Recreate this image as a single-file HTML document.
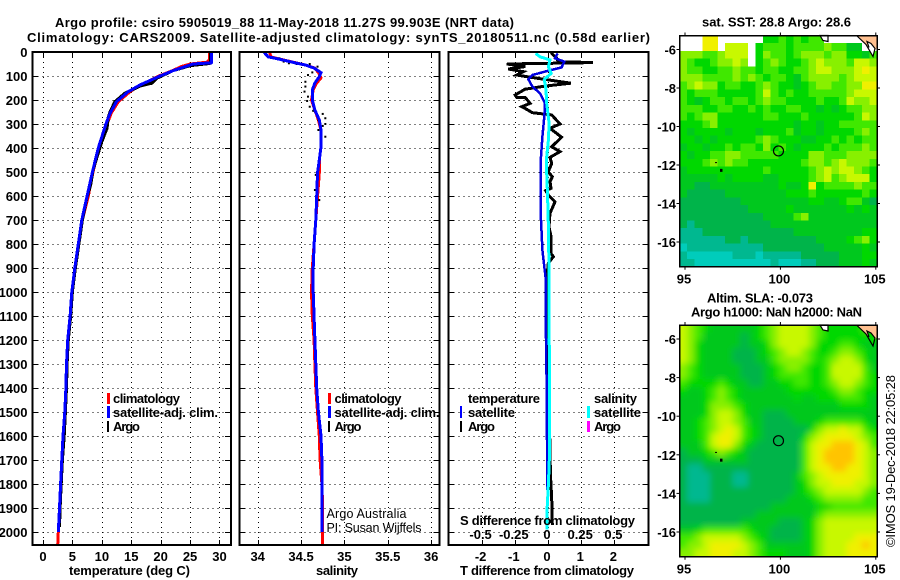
<!DOCTYPE html>
<html><head><meta charset="utf-8"><title>Argo profile</title>
<style>
html,body{margin:0;padding:0;background:#fff}
svg{display:block}
text{font-family:"Liberation Sans",sans-serif;fill:#000}
.b{font-size:13px;font-weight:bold}
.n{font-size:12.5px}
.r{font-size:13px}
</style></head>
<body>
<svg id="fig" xmlns="http://www.w3.org/2000/svg" width="900" height="580" viewBox="0 0 900 580">
<defs>
<clipPath id="c1"><rect x="32" y="52" width="199" height="493"/></clipPath>
<clipPath id="c2"><rect x="239" y="52" width="200" height="493"/></clipPath>
<clipPath id="c3"><rect x="448" y="52" width="200" height="493"/></clipPath>
<clipPath id="c4"><rect x="679.5" y="325" width="197.5" height="231.7"/></clipPath>
<filter id="smooth" filterUnits="userSpaceOnUse" x="640" y="290" width="260" height="290"><feGaussianBlur stdDeviation="3.2"/></filter>
</defs>
<rect width="900" height="580" fill="#fff"/>
<g id="maps"></g>
<g id="grids"></g>
<g id="series"></g>
<g id="frames"></g>
<g id="ticklabels"></g>

<text class="b" x="55" y="27" textLength="459" lengthAdjust="spacing">Argo profile: csiro 5905019_88 11-May-2018 11.27S 99.903E (NRT data)</text>
<text class="b" x="27" y="42" textLength="623" lengthAdjust="spacing">Climatology: CARS2009. Satellite-adjusted climatology: synTS_20180511.nc (0.58d earlier)</text>

<text class="b" x="69" y="575" textLength="121" lengthAdjust="spacing">temperature (deg C)</text>
<text class="b" x="316" y="575" textLength="42" lengthAdjust="spacing">salinity</text>
<text class="b" x="460" y="575" textLength="174" lengthAdjust="spacing">T difference from climatology</text>
<text class="b" x="460" y="525" textLength="175" lengthAdjust="spacing">S difference from climatology</text>

<g>
<rect x="107" y="393" width="3" height="11" fill="#f00"/>
<text class="b" x="113" y="403" textLength="67" lengthAdjust="spacing">climatology</text>
<rect x="107" y="406" width="3" height="12" fill="#00f"/>
<text class="b" x="113" y="417" textLength="105" lengthAdjust="spacing">satellite-adj. clim.</text>
<rect x="107" y="421" width="2" height="11" fill="#000"/>
<text class="b" x="113" y="431" textLength="27" lengthAdjust="spacing">Argo</text>
</g>
<g>
<rect x="328" y="393" width="3" height="11" fill="#f00"/>
<text class="b" x="334.5" y="403" textLength="67" lengthAdjust="spacing">climatology</text>
<rect x="328" y="406" width="3" height="12" fill="#00f"/>
<text class="b" x="334.5" y="417" textLength="105" lengthAdjust="spacing">satellite-adj. clim.</text>
<rect x="328" y="421" width="2" height="11" fill="#000"/>
<text class="b" x="334.5" y="431" textLength="27" lengthAdjust="spacing">Argo</text>
</g>
<g>
<text class="b" x="468" y="403" textLength="72" lengthAdjust="spacing">temperature</text>
<rect x="460" y="406" width="2" height="12" fill="#00f"/>
<text class="b" x="468" y="417" textLength="47" lengthAdjust="spacing">satellite</text>
<rect x="460" y="421" width="2" height="11" fill="#000"/>
<text class="b" x="468" y="431" textLength="27" lengthAdjust="spacing">Argo</text>
<text class="b" x="594" y="403" textLength="43" lengthAdjust="spacing">salinity</text>
<rect x="587" y="406" width="3" height="12" fill="#0ff"/>
<text class="b" x="594" y="417" textLength="47" lengthAdjust="spacing">satellite</text>
<rect x="587" y="421" width="3" height="11" fill="#f0f"/>
<text class="b" x="594" y="431" textLength="27" lengthAdjust="spacing">Argo</text>
</g>

<text class="n" x="326.5" y="518" textLength="80" lengthAdjust="spacing">Argo Australia</text>
<text class="n" x="326.5" y="532" textLength="95" lengthAdjust="spacing">PI: Susan Wijffels</text>

<text class="b" x="702" y="26.5" textLength="149" lengthAdjust="spacing">sat. SST: 28.8 Argo: 28.6</text>
<text class="b" x="707" y="302.5" textLength="106" lengthAdjust="spacing">Altim. SLA: -0.073</text>
<text class="b" x="691" y="316.5" textLength="171" lengthAdjust="spacing">Argo h1000: NaN h2000: NaN</text>
<text class="r" transform="translate(895,547) rotate(-90)" textLength="172" lengthAdjust="spacing">©IMOS 19-Dec-2018 22:05:28</text>
</svg>

<script>
// ---------- temperature panel data ----------
const tempClimDepth = [0,30,42,50,60,78,100,137,165,207,255,300,400,500,600,700,800,900,1000,1100,1200,1300,1400,1500,1600,1700,1800,1900,2000,2054];
const tempClim = [28.3,28.3,28.0,25.0,23.6,22.0,19.7,16.6,14.8,12.8,11.6,10.9,9.5,8.5,7.7,6.7,6.0,5.4,4.9,4.6,4.3,4.1,4.0,3.8,3.5,3.3,3.1,2.8,2.6,2.5];
const tempSatDepth = [0,45,50,78,100,137,165,207,255,300,400,500,600,700,800,900,1000,1100,1200,1300,1400,1500,1600,1700,1800,1900,2000];
const tempSat = [28.7,28.6,25.5,22.1,19.9,16.5,14.5,12.5,11.4,10.7,9.4,8.4,7.5,6.6,6.0,5.4,4.9,4.6,4.2,4.0,3.9,3.7,3.4,3.2,3.0,2.8,2.6];
const tempArgoDepth = [0,40,48,57,78,110,130,142,172,207,249,270,317,374,421,492,554,603,700,800,900,1000,1100,1200,1300,1400,1500,1600,1700,1800,1900,1980];
const tempArgo = [28.5,28.5,28.3,25.0,22.1,19.3,18.5,16.5,13.9,12.2,11.4,11.1,10.9,10.0,9.4,8.5,8.1,7.5,6.7,6.1,5.5,5.0,4.7,4.3,4.1,4.0,3.8,3.6,3.3,3.1,2.9,2.8];
const tempTicks = [0,5,10,15,20,25,30];
const depthTicks = [0,100,200,300,400,500,600,700,800,900,1000,1100,1200,1300,1400,1500,1600,1700,1800,1900,2000];

// ---------- salinity panel data ----------
const salClimDepth = [0,20,29,45,54,67,86,108,129,158,200,242,283,325,395,450,504,604,700,800,900,1000,1100,1200,1300,1400,1500,1600,1700,1800,1900,2054];
const salClim = [34.14,34.15,34.25,34.44,34.55,34.66,34.70,34.73,34.68,34.64,34.62,34.66,34.70,34.73,34.73,34.71,34.71,34.69,34.67,34.65,34.63,34.62,34.63,34.65,34.66,34.67,34.69,34.71,34.72,34.74,34.75,34.75];
const salSatDepth = [0,20,29,45,54,67,86,103,129,158,200,242,283,325,395,450,504,604,700,800,900,1000,1200,1400,1500,1600,1700,1800,2000];
const salSat = [34.07,34.12,34.24,34.43,34.55,34.65,34.73,34.71,34.66,34.63,34.63,34.66,34.71,34.73,34.73,34.71,34.69,34.68,34.67,34.65,34.64,34.64,34.66,34.68,34.70,34.73,34.74,34.74,34.74];
const salArgoDepth = [26,40,47,50,50,61,85,96,124,144,165,186,204,228,245,258,276,283,300,308,325,353,367,512,575,617];
const salArgo = [34.25,34.30,34.36,34.45,34.60,34.69,34.63,34.58,34.55,34.55,34.54,34.58,34.57,34.60,34.64,34.75,34.78,34.70,34.78,34.75,34.70,34.78,34.73,34.67,34.66,34.71];
const salTicks = [34,34.5,35,35.5,36];

// ---------- difference panel data ----------
const diffTArgoDepth = [3,26,40,44,50,61,71,82,96,103,114,130,142,155,179,190,189,214,228,239,253,262,300,318,355,395,415,439,464,499,520,540,568,578,596,624,672,728,769,839,853,880,943,1730,1780,1860,1970];
const diffTArgo = [0.09,0.26,0.31,1.36,-1.24,-0.69,-1.2,-0.74,-0.94,-0.64,-0.09,0.69,-0.09,-0.69,-0.99,-0.94,-0.69,-0.54,-0.79,-0.64,-0.47,0.11,0.36,0.06,0.41,0.11,0.36,0.06,0.11,0.01,0.13,0.06,0.09,-0.07,0.01,0.21,0.06,0.03,0.09,0.09,0.16,0.01,-0.04,0.07,0.08,0.11,0.13];
const diffTSatDepth = [6,26,40,64,78,96,114,144,172,214,269,353,436,672,825,894,943,1100,1400,1825];
const diffTSat = [0.29,0.21,0.49,0.41,0.01,-0.47,-0.59,-0.47,-0.24,-0.09,-0.11,-0.17,-0.21,-0.22,-0.17,-0.11,-0.07,-0.07,-0.04,-0.02];
const diffSSatDepth = [6,20,33,61,89,114,158,214,297,367,436,506,603,728,943,1300,1700,1800,1920,1990];
const diffSSat = [-0.093,-0.06,0.015,0.003,0.023,-0.028,-0.015,-0.01,0.008,0.003,-0.01,-0.01,-0.003,0.003,0.008,0.01,0.01,0.003,-0.008,-0.008];
const diffTTicks = [-2,-1,0,1,2];
const diffSTicks = [-0.5,-0.25,0,0.25,0.5];
const diffSLabels = ['-0.5','-0.25','0','0.25','0.5'];

// ---------- map data ----------
const lonTicks = [95,100,105];
const latTicks = [-6,-8,-10,-12,-14,-16];
const colorLevels = ['#00ccbb','#00b890','#00b44a','#00c81e','#00d800','#40e800','#88f000','#c8f800','#f0f000','#ffc400'];
const profileLon = 99.9;
const profileLat = -11.27;
// SST colour-scale level per cell, north to south (-1 = no data)
const sstGrid = [
[-1,-1,-1,8,8,-1,-1,-1,-1,-1,-1,4,4,5,4,5,4,5,5,-1,-1,-1,-1,-1,-1,-1],
[-1,-1,-1,8,8,-1,7,7,7,-1,4,5,5,5,4,5,5,5,5,6,5,5,3,3,-1,-1],
[6,6,6,5,5,6,7,7,7,-1,4,6,5,5,4,5,6,6,6,5,6,6,4,4,3,5],
[6,5,4,4,5,6,6,7,6,-1,4,5,6,5,4,4,5,6,7,6,6,6,5,7,7,6],
[6,5,5,4,4,5,5,6,5,5,4,5,5,4,4,5,5,6,7,7,6,6,6,7,8,7],
[6,6,6,5,5,5,5,6,5,6,5,4,5,5,4,3,5,6,6,6,6,5,6,7,7,7],
[5,6,7,6,6,4,5,5,4,4,5,6,5,4,4,3,4,5,6,6,5,5,6,6,8,8],
[5,4,5,5,5,4,4,4,4,4,5,7,5,4,5,4,4,5,5,5,5,5,6,7,7,7],
[5,4,3,4,5,5,4,5,5,4,5,6,5,5,4,4,4,4,5,4,4,5,7,6,6,7],
[5,5,5,4,4,5,5,4,4,5,4,5,4,4,5,5,4,4,3,4,3,4,5,5,6,6],
[5,4,5,6,6,4,4,4,4,4,4,5,5,4,4,4,5,4,4,4,4,4,4,5,7,6],
[4,4,4,5,6,4,4,4,4,4,4,4,4,4,4,3,4,4,3,4,4,5,5,5,5,5],
[4,3,4,4,4,4,3,4,4,4,3,4,4,4,5,3,4,4,3,4,4,4,4,5,6,5],
[4,4,3,4,3,4,4,4,4,4,5,6,5,4,4,4,3,3,4,4,5,4,5,4,5,5],
[3,4,4,3,4,4,5,4,5,5,4,6,4,5,4,3,4,4,4,5,4,5,5,5,6,5],
[4,3,4,4,5,5,6,6,5,5,5,5,5,4,4,4,4,6,6,5,5,5,6,6,6,6],
[4,4,4,5,6,5,6,5,5,4,4,4,4,4,4,4,5,6,6,5,6,7,6,6,6,5],
[3,4,4,4,4,4,4,4,4,4,4,5,4,4,4,4,4,5,6,7,6,7,7,6,5,4],
[3,3,3,3,3,4,3,4,4,4,4,3,3,4,4,4,4,5,6,7,5,6,7,7,7,4],
[3,3,2,2,3,3,3,3,3,3,3,3,3,4,3,3,4,8,4,5,5,5,5,6,5,5],
[3,2,2,2,2,2,3,3,3,3,3,3,3,3,4,4,4,5,4,4,4,4,4,4,5,4],
[2,2,2,2,2,2,2,2,3,3,3,3,3,3,3,3,3,4,4,3,3,4,5,5,3,2],
[2,2,2,2,2,2,2,2,2,3,3,3,3,3,4,3,3,3,3,3,3,3,4,3,4,3],
[2,2,2,2,2,2,2,2,2,2,2,3,3,3,3,5,6,3,3,3,3,3,3,3,3,3],
[2,1,2,2,2,2,2,2,2,2,2,2,3,3,3,3,3,3,3,3,3,3,3,3,3,3],
[1,1,1,2,2,2,2,2,2,2,2,2,2,2,2,3,3,3,3,3,3,3,3,3,4,4],
[1,1,1,1,1,1,2,2,1,2,2,2,2,2,2,2,2,2,3,3,3,3,4,5,6,4],
[0,1,1,1,1,1,1,1,1,1,1,2,2,2,2,2,2,2,2,3,3,3,3,3,4,3],
[1,0,0,0,0,0,0,1,1,1,0,1,1,1,1,1,2,2,2,2,2,3,3,3,4,4],
[1,1,0,0,0,0,0,0,0,0,0,0,1,0,0,0,1,1,2,2,2,3,3,3,4,3]
];
// SLA colour-scale level per cell, north to south
const slaGrid = [
[7,6,5,4,3,3,3,3,3,3,4,5,6,7,7,7,7,6,5,4,4,4,4,4,5,5],
[7,6,5,3,3,3,3,3,2,3,4,5,6,7,7,7,7,6,5,4,4,4,4,4,4,4],
[7,6,4,3,3,3,3,3,2,3,3,4,6,7,7,7,7,6,4,4,4,5,5,4,3,3],
[7,6,4,3,3,3,3,2,2,2,3,4,5,6,7,7,6,5,4,4,5,6,6,5,4,3],
[7,6,4,3,3,3,3,2,2,2,3,3,5,6,6,6,6,5,4,5,6,7,7,6,4,3],
[6,5,4,3,3,3,3,3,2,2,2,3,4,5,6,6,5,4,4,5,7,7,7,7,5,3],
[6,5,4,3,3,3,3,3,2,2,2,3,4,5,5,5,5,4,4,5,7,7,7,7,5,4],
[5,4,4,4,4,5,4,3,3,2,2,3,3,4,4,5,5,4,4,5,6,7,7,6,5,4],
[4,3,3,4,5,6,5,4,3,3,3,3,3,3,4,4,4,4,4,4,5,6,6,5,4,4],
[3,3,3,4,5,6,5,4,3,3,3,3,3,3,3,4,3,3,4,4,4,5,5,5,4,3],
[3,3,3,4,6,6,6,5,4,3,3,3,3,3,3,3,3,3,3,3,3,4,4,4,4,3],
[3,3,3,4,6,7,7,6,4,3,3,2,2,2,3,3,3,3,3,3,3,3,3,3,3,3],
[3,3,4,5,6,7,7,6,5,3,3,2,2,2,2,3,3,3,4,5,5,5,5,5,4,3],
[3,3,4,5,6,7,8,7,5,4,3,2,2,2,2,2,2,4,6,7,7,8,7,7,5,4],
[3,3,4,5,7,8,8,7,5,4,3,2,2,2,2,2,4,6,7,8,8,8,8,7,6,5],
[3,3,3,5,7,8,8,6,4,3,2,2,2,2,2,2,5,7,8,8,9,9,9,8,7,5],
[2,3,3,4,5,6,5,4,3,2,2,2,2,2,2,2,5,7,8,9,9,9,9,8,7,6],
[2,2,2,3,3,3,3,3,3,2,2,2,2,2,2,2,5,7,8,9,9,9,9,8,7,6],
[2,1,1,2,2,2,2,2,2,2,2,2,2,2,2,2,5,7,8,8,9,9,8,8,7,6],
[2,1,1,1,2,2,2,1,1,2,2,2,2,2,2,3,5,6,7,8,8,8,8,8,7,6],
[2,1,1,1,2,2,2,1,1,2,2,2,2,2,2,3,4,6,7,7,8,8,8,7,7,6],
[2,1,1,1,2,2,2,2,2,2,2,2,2,2,2,3,4,5,6,7,7,7,7,7,6,5],
[2,1,1,1,2,2,2,2,2,2,2,2,2,2,3,3,3,4,5,6,6,6,6,6,5,5],
[2,2,2,2,2,2,2,2,2,2,2,2,3,3,3,3,3,3,4,4,5,5,5,5,5,5],
[2,2,2,2,2,2,2,2,2,2,3,3,3,3,3,3,3,3,5,6,6,6,6,6,6,6],
[2,2,2,2,2,2,2,2,3,3,3,3,3,2,2,2,3,4,6,7,7,7,7,7,7,7],
[3,3,4,5,5,5,5,5,5,4,3,3,2,2,2,2,3,4,6,7,7,7,7,7,7,7],
[5,5,6,7,7,7,7,7,6,5,4,3,2,2,2,2,3,4,6,7,7,7,7,8,8,8],
[5,6,6,7,8,8,8,8,7,6,5,3,3,3,3,3,3,4,6,7,7,7,8,8,9,8],
[6,6,7,7,8,8,8,7,7,6,5,4,4,4,3,3,3,4,6,7,7,7,8,8,8,8]
];

// ---------- axis functions ----------
const NS = 'http://www.w3.org/2000/svg';
const PLOT_TOP = 52, PLOT_BOTTOM = 545;
const yDepth = d => PLOT_TOP + d * 0.24;
const xTemp = t => 43 + t * 5.883;
const xSal = s => 257.7 + (s - 34) * 86.7;
const xDiffT = v => 548 + v * 33.2;
const xDiffS = v => 548 + v * 132.8;

function mk(parent, tag, attrs, text) {
  const e = document.createElementNS(NS, tag);
  for (const k in attrs) e.setAttribute(k, attrs[k]);
  if (text !== undefined) e.textContent = text;
  parent.appendChild(e);
  return e;
}
const gMaps = document.getElementById('maps');
const gGrids = document.getElementById('grids');
const gSeries = document.getElementById('series');
const gFrames = document.getElementById('frames');
const gLabels = document.getElementById('ticklabels');

function line(xs, ys, color, width, clip, name) {
  const pts = xs.map((x, i) => x.toFixed(1) + ',' + ys[i].toFixed(1)).join(' ');
  const p = mk(gSeries, 'polyline', {points: pts, fill: 'none', stroke: color, 'stroke-width': width, 'shape-rendering': 'crispEdges', 'clip-path': 'url(#' + clip + ')'});
  
  
  return p;
}

// ---------- frames, grids and ticks for the three profile panels ----------
function panel(left, right, xVals, xFn, name) {
  const dot = {stroke: '#000', 'stroke-width': 1.2, 'stroke-dasharray': '1.2 3.8', 'shape-rendering': 'crispEdges'};
  const tick = {stroke: '#000', 'stroke-width': 1, 'shape-rendering': 'crispEdges'};
  xVals.forEach(v => {
    const x = Math.round(xFn(v)) + 0.5;
    const g = mk(gGrids, 'line', Object.assign({x1: x, x2: x, y1: PLOT_TOP, y2: PLOT_BOTTOM}, dot));
    
    
    const t1 = mk(gGrids, 'line', Object.assign({x1: x, x2: x, y1: PLOT_BOTTOM - 5, y2: PLOT_BOTTOM}, tick));
    
    
    const t2 = mk(gGrids, 'line', Object.assign({x1: x, x2: x, y1: PLOT_TOP, y2: PLOT_TOP + 5}, tick));
    
    
  });
  depthTicks.forEach(d => {
    const y = Math.round(yDepth(d)) + 0.5;
    const g = mk(gGrids, 'line', Object.assign({x1: left, x2: right, y1: y, y2: y}, dot));
    
    
    const t1 = mk(gGrids, 'line', Object.assign({x1: left, x2: left + 6, y1: y, y2: y}, tick));
    
    
    const t2 = mk(gGrids, 'line', Object.assign({x1: right - 6, x2: right, y1: y, y2: y}, tick));
    
    
  });
  const f = mk(gFrames, 'rect', {x: left, y: PLOT_TOP, width: right - left, height: PLOT_BOTTOM - PLOT_TOP, fill: 'none', stroke: '#000', 'stroke-width': 2, 'shape-rendering': 'crispEdges'});
  
  
}
panel(32.5, 231, tempTicks, xTemp, 'temperature-panel');
panel(239.5, 439.5, salTicks, xSal, 'salinity-panel');
panel(448.5, 648.5, diffTTicks, xDiffT, 'difference-panel');

// ---------- tick labels ----------
function label(x, y, s, anchor, name) {
  const t = mk(gLabels, 'text', {x: x, y: y, 'text-anchor': anchor, class: 'b'}, s);
  
  
}
depthTicks.forEach(d => label(27.5, yDepth(d) + 5, String(d), 'end', 'depth-tick-label'));
tempTicks.forEach(v => label(xTemp(v), 561, String(v), 'middle', 'temperature-tick-label'));
salTicks.forEach(v => label(xSal(v), 561, String(v), 'middle', 'salinity-tick-label'));
diffTTicks.forEach(v => label(xDiffT(v) - 1, 561, String(v), 'middle', 't-difference-tick-label'));
diffSTicks.forEach((v, i) => label(xDiffS(v) - 1, 539, diffSLabels[i], 'middle', 's-difference-tick-label'));

// ---------- series ----------
line(tempClim.map(xTemp), tempClimDepth.map(yDepth), '#f00', 3, 'c1', 'temperature-climatology-line');
line(tempArgo.map(xTemp), tempArgoDepth.map(yDepth), '#000', 3, 'c1', 'temperature-argo-line');
line(tempSat.map(xTemp), tempSatDepth.map(yDepth), '#00f', 3, 'c1', 'temperature-satellite-line');

line(salClim.map(xSal), salClimDepth.map(yDepth), '#f00', 3, 'c2', 'salinity-climatology-line');
salArgo.forEach((s, i) => {
  const dotEl = mk(gSeries, 'rect', {x: xSal(s) - 1, y: yDepth(salArgoDepth[i]) - 1, width: 2, height: 2, fill: '#000'});
  
  
});
line(salSat.map(xSal), salSatDepth.map(yDepth), '#00f', 3, 'c2', 'salinity-satellite-line');

line(diffTArgo.map(xDiffT), diffTArgoDepth.map(yDepth), '#000', 3, 'c3', 't-difference-argo-line');
line(diffTSat.map(xDiffT), diffTSatDepth.map(yDepth), '#0000e0', 2.5, 'c3', 't-difference-satellite-line');
line(diffSSat.map(xDiffS), diffSSatDepth.map(yDepth), '#0ff', 3, 'c3', 's-difference-satellite-line');

// ---------- maps ----------
function drawMap(grid, left, right, top, bottom, lat6y, lat16y, name, smooth) {
  const xLon = lon => 685 + (lon - 95) * 19.08;
  const yLat = lat => lat6y + (-6 - lat) * (lat16y - lat6y) / 10;
  const rows = grid.length, cols = grid[0].length;
  const cw = (right - left) / cols, ch = (bottom - top) / rows;
  const clipG = mk(gMaps, 'g', smooth ? {'clip-path': 'url(#c4)'} : {});
  
  
  const cellG = mk(clipG, 'g', smooth ? {filter: 'url(#smooth)'} : {});
  
  
  const pad = smooth ? 14 : 0;
  grid.forEach((row, r) => row.forEach((v, c) => {
    if (v < 0) return;
    const padL = c === 0 ? pad : 0, padR = c === cols - 1 ? pad : 0;
    const padT = r === 0 ? pad : 0, padB = r === rows - 1 ? pad : 0;
    const cell = mk(cellG, 'rect', {x: (left + c * cw - padL).toFixed(2), y: (top + r * ch - padT).toFixed(2), width: (cw + 0.3 + padL + padR).toFixed(2), height: (ch + 0.3 + padT + padB).toFixed(2), fill: colorLevels[v], 'shape-rendering': 'crispEdges'});
    
    
  }));
  // land and coast at top-right corner
  const land = mk(gMaps, 'polygon', {points: `856.5,${top} ${right},${top} ${right},${top + 12} 875,${top + 15} 873,${top + 21} 866,${top + 9}`, fill: '#ffc090'});
  
  
  const coast = mk(gMaps, 'polyline', {points: `856.5,${top} 866,${top + 9} 873,${top + 21} 875,${top + 13} 871,${top + 8} 867,${top + 6} 869,${top + 12}`, fill: smooth ? '#00d800' : '#fff', stroke: '#000', 'stroke-width': 1.2});
  
  
  const island = mk(gMaps, 'polygon', {points: `820,${top} 828,${top} 828,${top + 6} 823,${top + 5}`, fill: '#fff', stroke: '#000', 'stroke-width': 1.2});
  
  
  const isle1 = mk(gMaps, 'rect', {x: 720, y: yLat(-12.2), width: 2.5, height: 3, fill: '#000'});
  
  
  const isle2 = mk(gMaps, 'rect', {x: 715, y: yLat(-11.85), width: 2, height: 1, fill: '#000'});
  
  
  const circle = mk(gMaps, 'circle', {cx: xLon(profileLon), cy: yLat(profileLat), r: 5, fill: 'none', stroke: '#000', 'stroke-width': 1.2});
  
  
  const frame = mk(gFrames, 'rect', {x: left, y: top, width: right - left, height: bottom - top, fill: 'none', stroke: '#000', 'stroke-width': 1.5, 'shape-rendering': 'crispEdges'});
  
  
  lonTicks.forEach(lon => {
    const x = xLon(lon);
    const t1 = mk(gFrames, 'line', {x1: x, x2: x, y1: top - 3, y2: top, stroke: '#000', 'stroke-width': 1});
    
    
    const t2 = mk(gFrames, 'line', {x1: x, x2: x, y1: bottom, y2: bottom + 3, stroke: '#000', 'stroke-width': 1});
    
    
    label(x - 1, bottom + 17, String(lon), 'middle', name + '-lon-tick-label');
  });
  latTicks.forEach(lat => {
    const y = yLat(lat);
    const t1 = mk(gFrames, 'line', {x1: left - 3, x2: left, y1: y, y2: y, stroke: '#000', 'stroke-width': 1});
    
    
    const t2 = mk(gFrames, 'line', {x1: right, x2: right + 3, y1: y, y2: y, stroke: '#000', 'stroke-width': 1});
    
    
    label(676, y + 5, String(lat), 'end', name + '-lat-tick-label');
  });
}
drawMap(sstGrid, 679.5, 877, 35.5, 266.7, 49.5, 242, 'sst-map', false);
drawMap(slaGrid, 679.5, 877, 325, 556.7, 339, 532, 'sla-map', true);
</script>
</body></html>
